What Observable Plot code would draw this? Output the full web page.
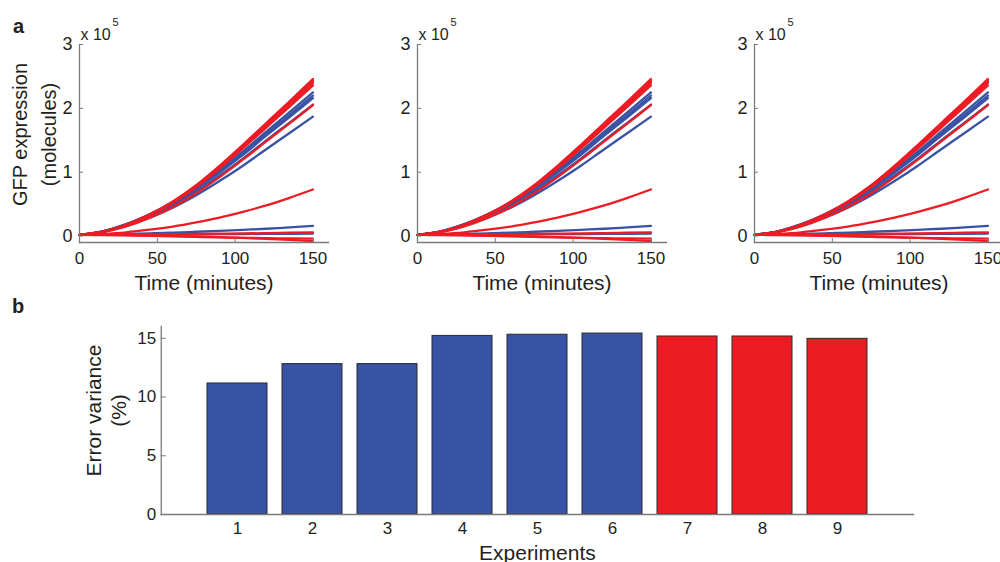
<!DOCTYPE html>
<html><head><meta charset="utf-8">
<script src="https://cdn.jsdelivr.net/npm/d3@7"></script>
<script src="https://cdn.jsdelivr.net/npm/@observablehq/plot@0.6"></script>
<style>
body{margin:0;background:#fff;}
#root{position:relative;width:1000px;height:562px;overflow:hidden;font-family:"Liberation Sans",Arial,Helvetica,sans-serif;color:#231f20;}
#root svg{position:absolute;overflow:visible;background:transparent;}
.lbl{position:absolute;font-weight:bold;font-size:20px;line-height:1;}
</style></head><body><div id="root"></div>
<script>
// ---- data ----
const times = [0,15,30,45,60,75,90,105,120,135,150];
const blueSeries = [
  [0.02,0.076,0.187,0.343,0.533,0.767,1.035,1.325,1.637,1.942,2.25],
  [0.02,0.075,0.184,0.336,0.521,0.750,1.012,1.295,1.601,1.899,2.20],
  [0.02,0.074,0.181,0.330,0.512,0.737,0.994,1.272,1.572,1.865,2.16],
  [0.02,0.071,0.173,0.316,0.489,0.703,0.948,1.213,1.499,1.778,2.06],
  [0.02,0.066,0.159,0.288,0.446,0.640,0.862,1.102,1.361,1.615,1.87],
  [0.02,0.025,0.033,0.043,0.055,0.068,0.082,0.098,0.115,0.137,0.16],
  [0.02,0.021,0.022,0.024,0.026,0.028,0.030,0.032,0.035,0.037,0.04]
];
const redSeries = [
  [0.02,0.069,0.178,0.336,0.542,0.798,1.101,1.429,1.770,2.110,2.46],
  [0.02,0.068,0.176,0.332,0.536,0.788,1.088,1.412,1.748,2.084,2.43],
  [0.02,0.067,0.174,0.329,0.531,0.781,1.078,1.399,1.732,2.066,2.40],
  [0.02,0.066,0.171,0.323,0.521,0.767,1.058,1.373,1.700,2.028,2.36],
  [0.02,0.061,0.152,0.284,0.456,0.670,0.923,1.197,1.482,1.766,2.05],
  [0.02,0.035,0.060,0.100,0.150,0.215,0.290,0.380,0.480,0.600,0.73],
  [0.02,0.022,0.025,0.028,0.031,0.034,0.038,0.042,0.047,0.053,0.06],
  [0.02,0.018,0.014,0.009,0.003,-0.005,-0.015,-0.027,-0.041,-0.058,-0.078],
  [0.02,0.016,0.010,0.003,-0.005,-0.013,-0.020,-0.027,-0.032,-0.036,-0.04]
];
const xTicksA = [0,50,100,150];
const yTicksA = [0,1,2,3];

const experiments = [1,2,3,4,5,6,7,8,9];
const errorVariance = [11.15,12.8,12.8,15.2,15.3,15.4,15.15,15.15,14.95];
const expGroup = ["blue","blue","blue","blue","blue","blue","red","red","red"];
const yTicksB = [0,5,10,15];

// ---- styles ----
const BLUE = "#3953a4", RED = "#ed1c24", AXIS = "#7a7a7a", TEXT = "#231f20";
const FONT = "'Liberation Sans', Arial, Helvetica, sans-serif";
const groupColor = {blue: BLUE, red: RED};

const lineRows = [];
blueSeries.forEach((s, i) => s.forEach((v, j) => lineRows.push({id: "b" + i, t: times[j], v, color: BLUE})));
redSeries.forEach((s, i) => s.forEach((v, j) => lineRows.push({id: "r" + i, t: times[j], v, color: RED})));

const barRows = experiments.map((e, i) => ({exp: e, val: errorVariance[i], color: groupColor[expGroup[i]]}));

const root = document.getElementById("root");

function lineChart(left, withYLabel) {
  const W = 338, H = 300, mL = 79, mR = 10, mT = 44, mB = 58;
  const fw = W - mL - mR, fh = H - mT - mB;
  const marks = [
    Plot.line(lineRows, {x: "t", y: "v", z: "id", stroke: "color", strokeWidth: 2.3, curve: "monotone-x"}),
    Plot.frame({anchor: "left", stroke: AXIS, strokeWidth: 1.3}),
    Plot.frame({anchor: "bottom", stroke: AXIS, strokeWidth: 1.3}),
    Plot.tickX(xTicksA, {x: d => d, insetTop: fh - 4, stroke: AXIS}),
    Plot.tickY(yTicksA, {y: d => d, insetRight: fw - 4, stroke: AXIS}),
    Plot.axisX(xTicksA, {tickSize: 0, tickPadding: 9, tickFormat: d => String(d), fontSize: 17, label: null, fill: TEXT}),
    Plot.axisY(yTicksA, {tickSize: 0, tickPadding: 7, tickFormat: d => String(d), fontSize: 18, label: null, fill: TEXT}),
    Plot.text(["Time (minutes)"], {frameAnchor: "bottom", textAnchor: "middle", dy: 47, fontSize: 21, fill: TEXT}),
    Plot.text(["x 10"], {frameAnchor: "top-left", textAnchor: "start", lineAnchor: "bottom", dx: 1, dy: -5, fontSize: 16, fill: TEXT}),
    Plot.text(["5"], {frameAnchor: "top-left", textAnchor: "start", lineAnchor: "bottom", dx: 33, dy: -19, fontSize: 11, fill: TEXT})
  ];
  if (withYLabel) {
    marks.push(Plot.text(["GFP expression\n(molecules)"], {frameAnchor: "left", textAnchor: "middle", rotate: -90, dx: -47, dy: -9, lineHeight: 1.45, fontSize: 20, fill: TEXT}));
  }
  const svg = Plot.plot({
    width: W, height: H, marginLeft: mL, marginRight: mR, marginTop: mT, marginBottom: mB,
    x: {domain: [0, 160]},
    y: {domain: [-0.1, 3]},
    color: {type: "identity"},
    style: {fontFamily: FONT, fontSize: "18px", background: "transparent", color: TEXT, overflow: "visible"},
    marks
  });
  svg.style.left = left + "px";
  svg.style.top = "0px";
  root.appendChild(svg);
}

lineChart(0, true);
lineChart(338, false);
lineChart(675, false);

(function barChart() {
  const W = 1000, H = 272, mL = 160.75, mR = 87, mT = 36, mB = 48;
  const fw = W - mL - mR;
  const svg = Plot.plot({
    width: W, height: H, marginLeft: mL, marginRight: mR, marginTop: mT, marginBottom: mB,
    x: {type: "band", domain: experiments, paddingInner: 0.2, paddingOuter: 0.6},
    y: {domain: [0, 16]},
    color: {type: "identity"},
    style: {fontFamily: FONT, fontSize: "17px", background: "transparent", color: TEXT, overflow: "visible"},
    marks: [
      Plot.barY(barRows, {x: "exp", y: "val", fill: "color", stroke: "#2b2b2b", strokeWidth: 1}),
      Plot.tickY(yTicksB, {y: d => d, insetRight: fw - 5, stroke: AXIS}),
      Plot.frame({anchor: "left", stroke: AXIS, strokeWidth: 1.3}),
      Plot.frame({anchor: "bottom", stroke: AXIS, strokeWidth: 1.3}),
      Plot.axisX({tickSize: 0, tickPadding: 7, fontSize: 17, label: null, fill: TEXT}),
      Plot.axisY(yTicksB, {tickSize: 0, tickPadding: 5, tickFormat: d => String(d), fontSize: 17, label: null, fill: TEXT}),
      Plot.text(["Experiments"], {frameAnchor: "bottom", textAnchor: "middle", dy: 45, fontSize: 21, fill: TEXT}),
      Plot.text(["Error variance\n(%)"], {frameAnchor: "left", textAnchor: "middle", rotate: -90, dx: -56, dy: -10, lineHeight: 1.2, fontSize: 21, fill: TEXT})
    ]
  });
  svg.style.left = "0px";
  svg.style.top = "290px";
  root.appendChild(svg);
})();

const a = document.createElement("div"); a.className = "lbl"; a.textContent = "a"; a.style.left = "13px"; a.style.top = "16px"; root.appendChild(a);
const b = document.createElement("div"); b.className = "lbl"; b.textContent = "b"; b.style.left = "12px"; b.style.top = "296px"; root.appendChild(b);
</script>
</body></html>
